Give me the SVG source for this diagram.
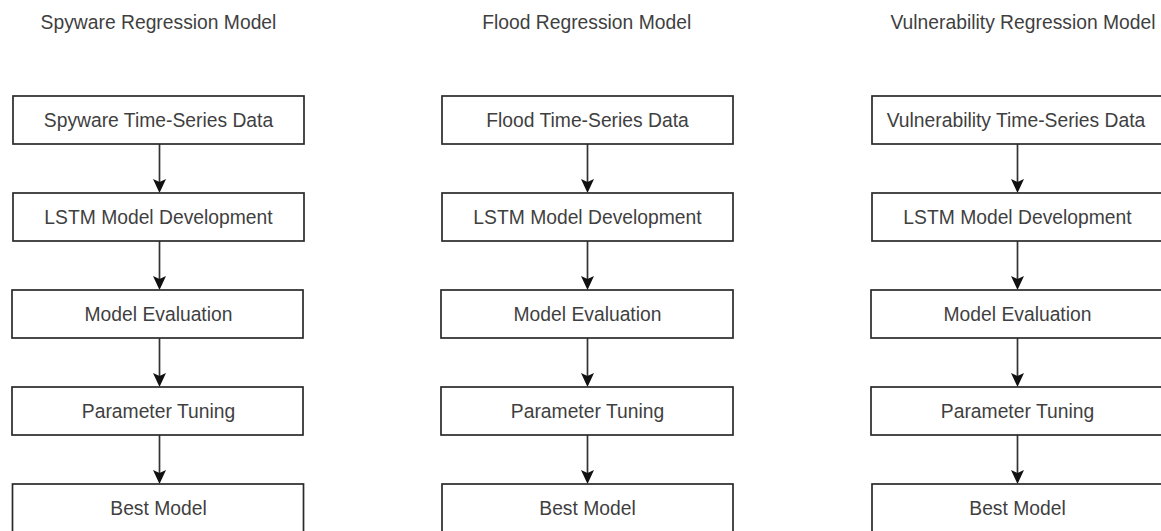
<svg xmlns="http://www.w3.org/2000/svg" width="1161" height="531" viewBox="0 0 1161 531">
<defs>
<style>
.box{fill:#ffffff;stroke:#2a2a2a;stroke-width:1.7}
.lbl{font-family:"Liberation Sans",Arial,sans-serif;font-size:19.3px;fill:#3f3f3f;text-anchor:middle}
.conn{stroke:#333333;stroke-width:1.7;fill:none;marker-end:url(#arr)}
</style>
<marker id="arr" viewBox="0 0 14 13" markerWidth="14" markerHeight="13" refX="3" refY="6.5" orient="auto" markerUnits="userSpaceOnUse">
<path d="M0,0 L14,6.5 L0,13 L3,6.5 Z" fill="#111111"/>
</marker>
</defs>
<rect width="1161" height="531" fill="#ffffff"/>

<g id="titles">
<text class="lbl" x="158.5" y="29">Spyware Regression Model</text>
<text class="lbl" x="586.7" y="29">Flood Regression Model</text>
<text class="lbl" x="1023" y="29">Vulnerability Regression Model</text>
</g>

<g id="connectors">
<line class="conn" x1="159.5" y1="144" x2="159.5" y2="182"/>
<line class="conn" x1="159.5" y1="241" x2="159.5" y2="279"/>
<line class="conn" x1="159.5" y1="338" x2="159.5" y2="376"/>
<line class="conn" x1="159.5" y1="435" x2="159.5" y2="473"/>
<line class="conn" x1="587.5" y1="144" x2="587.5" y2="182"/>
<line class="conn" x1="587.5" y1="241" x2="587.5" y2="279"/>
<line class="conn" x1="587.5" y1="338" x2="587.5" y2="376"/>
<line class="conn" x1="587.5" y1="435" x2="587.5" y2="473"/>
<line class="conn" x1="1017.5" y1="144" x2="1017.5" y2="182"/>
<line class="conn" x1="1017.5" y1="241" x2="1017.5" y2="279"/>
<line class="conn" x1="1017.5" y1="338" x2="1017.5" y2="376"/>
<line class="conn" x1="1017.5" y1="435" x2="1017.5" y2="473"/>
</g>

<g id="spy-data"><rect class="box" x="13" y="96" width="291" height="48"/><text class="lbl" x="158.5" y="127">Spyware Time-Series Data</text></g>
<g id="spy-lstm"><rect class="box" x="13" y="193" width="291" height="48"/><text class="lbl" x="158.5" y="224">LSTM Model Development</text></g>
<g id="spy-eval"><rect class="box" x="12" y="290" width="291" height="48"/><text class="lbl" x="158.5" y="321">Model Evaluation</text></g>
<g id="spy-tune"><rect class="box" x="12" y="387" width="291" height="48"/><text class="lbl" x="158.5" y="418">Parameter Tuning</text></g>
<g id="spy-best"><rect class="box" x="12.5" y="484" width="291" height="48"/><text class="lbl" x="158.5" y="515">Best Model</text></g>

<g id="flood-data"><rect class="box" x="442" y="96" width="291" height="48"/><text class="lbl" x="587.5" y="127">Flood Time-Series Data</text></g>
<g id="flood-lstm"><rect class="box" x="442" y="193" width="291" height="48"/><text class="lbl" x="587.5" y="224">LSTM Model Development</text></g>
<g id="flood-eval"><rect class="box" x="441" y="290" width="292" height="48"/><text class="lbl" x="587.5" y="321">Model Evaluation</text></g>
<g id="flood-tune"><rect class="box" x="441" y="387" width="292" height="48"/><text class="lbl" x="587.5" y="418">Parameter Tuning</text></g>
<g id="flood-best"><rect class="box" x="442" y="484" width="291" height="48"/><text class="lbl" x="587.5" y="515">Best Model</text></g>

<g id="vuln-data"><rect class="box" x="872" y="96" width="291" height="48"/><text class="lbl" x="1016" y="127">Vulnerability Time-Series Data</text></g>
<g id="vuln-lstm"><rect class="box" x="872" y="193" width="291" height="48"/><text class="lbl" x="1017.5" y="224">LSTM Model Development</text></g>
<g id="vuln-eval"><rect class="box" x="871" y="290" width="292" height="48"/><text class="lbl" x="1017.5" y="321">Model Evaluation</text></g>
<g id="vuln-tune"><rect class="box" x="871" y="387" width="292" height="48"/><text class="lbl" x="1017.5" y="418">Parameter Tuning</text></g>
<g id="vuln-best"><rect class="box" x="872" y="484" width="291" height="48"/><text class="lbl" x="1017.5" y="515">Best Model</text></g>
</svg>
